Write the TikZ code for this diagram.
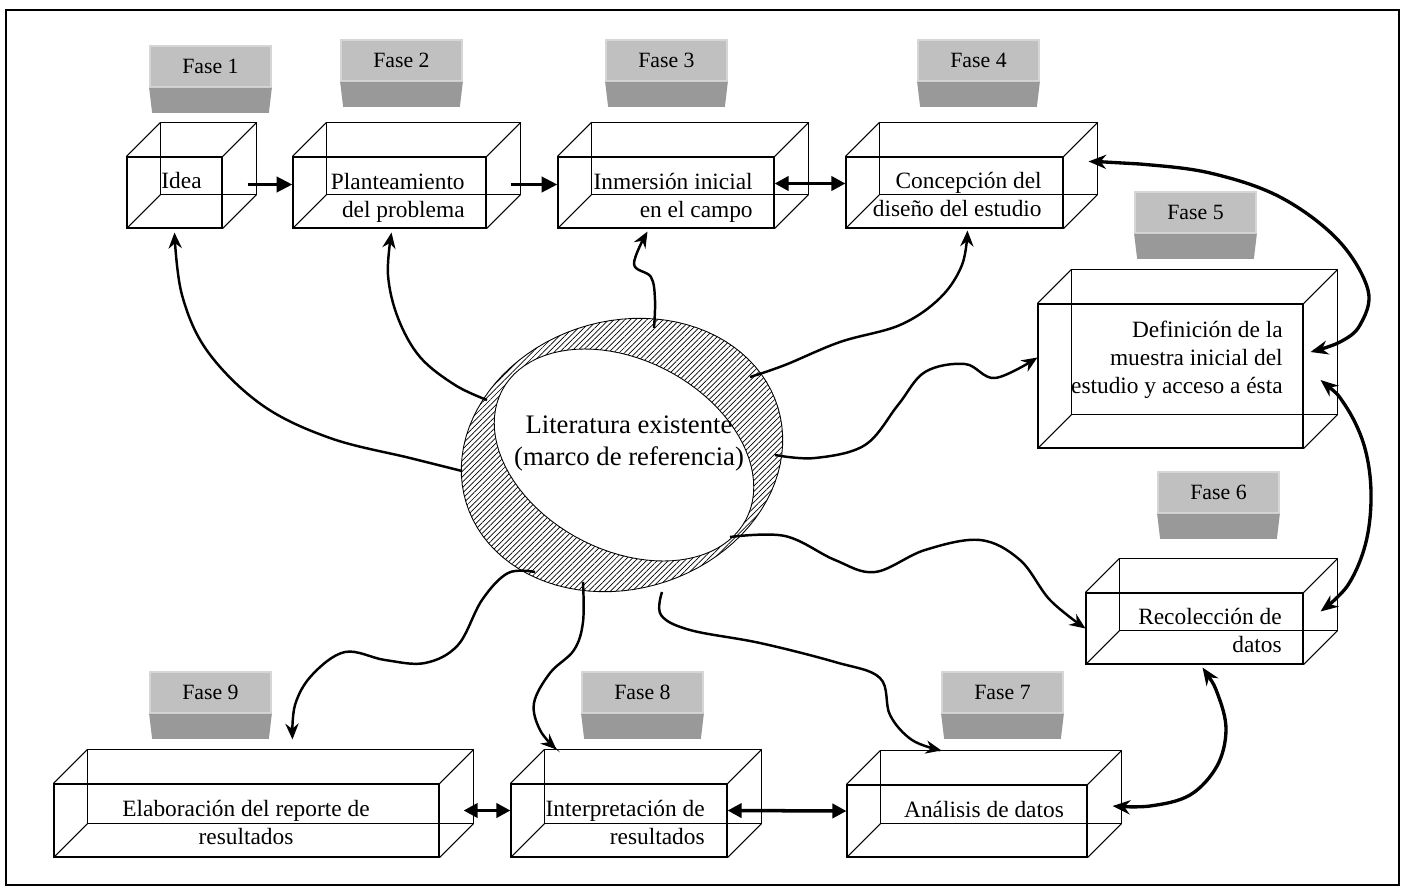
\documentclass[tikz,border=0pt]{standalone}
\usepackage{fontspec}
\setmainfont{Liberation Serif}
\usepackage{xcolor}
\definecolor{tablight}{RGB}{192,192,192}
\definecolor{tabrim}{RGB}{214,214,214}
\definecolor{tabdark}{RGB}{153,153,153}
\usetikzlibrary{arrows.meta, positioning, calc, fit, patterns.meta}

\begin{document}
\begin{tikzpicture}[
    x=0.02cm, y=-0.02cm,
    cube/.style={draw, inner sep=0pt, line width=0.6pt},
    fasetab/.style={fill=tablight, draw=tabrim, line width=1pt, minimum width=2.42cm, minimum height=0.82cm, inner sep=0pt, font=\fontsize{12.4}{14}\selectfont},
    boxtext/.style={inner sep=0pt, align=right, anchor=base east, font=\fontsize{13.3}{15.8}\selectfont},
    ring/.style={draw, line width=0.5pt, pattern={Lines[angle=45, distance=2.2pt, line width=0.4pt]}},
    flow/.style={-{Triangle[length=9pt, width=8.5pt]}, line width=2.2pt},
    twoway/.style={{Triangle[length=8pt, width=8pt]}-{Triangle[length=8pt, width=8pt]}, line width=2pt},
    link/.style={-{Stealth[length=9pt, width=7.5pt]}, line width=1.4pt},
    swing/.style={{Stealth[length=10pt, width=8pt]}-{Stealth[length=10pt, width=8pt]}, line width=1.9pt}
]
\useasboundingbox (0,0) rectangle (1407,890);
\draw[line width=1.2pt] (6,10) rectangle (1399,885);

% fases
\node[fasetab] (f1) at (210.5,66.5) {Fase 1};
\node[fasetab] (f2) at (401.5,60.5) {Fase 2};
\node[fasetab] (f3) at (666.5,60.5) {Fase 3};
\node[fasetab] (f4) at (978.5,60.5) {Fase 4};
\node[fasetab] (f5) at (1195.5,212.5) {Fase 5};
\node[fasetab] (f6) at (1218.5,492.5) {Fase 6};
\node[fasetab] (f7) at (1002.5,692.5) {Fase 7};
\node[fasetab] (f8) at (642.5,692.5) {Fase 8};
\node[fasetab] (f9) at (210.5,692.5) {Fase 9};
\foreach \t in {f1,f2,f3,f4,f5,f6,f7,f8,f9}
  \fill[tabdark] (\t.south west) -- (\t.south east) -- ++(-3,25) -- ($(\t.south west)+(3,25)$) -- cycle;

% cajas
\foreach \n/\xa/\ya/\xb/\yb in {idea/127/157/222/228, plan/293/157/486/228, inm/558/157/774/228, conc/846/157/1063/228, defi/1038/304/1303/448, reco/1086/593/1303/664, elab/54/784/439/857, interp/511/784/727/857, anal/847/785/1087/857} {
  \node[cube, fit={(\xa,\ya) (\xb,\yb)}] (\n) {};
  \draw[cube] ($(\n.north west)+(34,-34)$) rectangle ($(\n.south east)+(34,-34)$);
  \foreach \c in {north west, north east, south west, south east}
    \draw[cube] (\n.\c) -- ++(34,-34);
}

\node[boxtext] (idealbl) at (202,188) {Idea};
\node[boxtext] (planlbl) at (465,217) {Planteamiento\\del problema};
\node[boxtext] (inmlbl) at (753,217) {Inmersión inicial\\en el campo};
\node[boxtext] (conclbl) at (1042,216) {Concepción del\\diseño del estudio};
\node[boxtext] (defilbl) at (1283,393) {Definición de la\\muestra inicial del\\estudio y acceso a ésta};
\node[boxtext] (recolbl) at (1282,652) {Recolección de\\datos};
\node[boxtext] (interplbl) at (705,844) {Interpretación de\\resultados};
\node[boxtext, align=center, anchor=base] (elablbl) at (246,844) {Elaboración del reporte de\\resultados};
\node[boxtext, anchor=base] (anallbl) at (984,817) {Análisis de datos};

% literatura
\draw[ring] plot[domain=0:360, samples=91, variable=\t]
  ({622 + 163*cos(\t)*cos(17) + 134*sin(\t)*sin(17)}, {455 - 163*cos(\t)*sin(17) + 134*sin(\t)*cos(17)}) -- cycle;
\draw[fill=white, line width=0.5pt] plot[domain=0:360, samples=91, variable=\t]
  ({624 + 138*cos(\t)*cos(28) - 95*sin(\t)*sin(28)}, {455 + 138*cos(\t)*sin(28) + 95*sin(\t)*cos(28)}) -- cycle;
\node[font=\fontsize{15.2}{18}\selectfont, align=center, inner sep=0pt, anchor=base] (lit) at (629,465) {Literatura existente\\(marco de referencia)};

\coordinate (r1) at (462,471);
\coordinate (r2) at (487,400);
\coordinate (r3) at (654,328);
\coordinate (r4) at (750,377);
\coordinate (r5) at (775,455);
\coordinate (r6) at (730,537);
\coordinate (r7) at (662,592);
\coordinate (r8) at (583,582);
\coordinate (r9) at (535,572);

\draw[link] plot[smooth, tension=0.6] coordinates {(r1) (410,458) (330,438) (262,405) (208,352) (182,295) ($(idea.south)+(0,4)$)};
\draw[link] plot[smooth, tension=0.6] coordinates {(r2) (455,385) (420,357) (398,318) (388,275) ($(plan.south)+(2,4)$)};
\draw[link] plot[smooth, tension=0.6] coordinates {(r3) (655,300) (651,277) (634,264) ($(inm.south west)+(90,3)$)};
\draw[link] plot[smooth, tension=0.6] coordinates {(r4) (785,365) (840,342) (900,325) (940,298) (962,265) ($(conc.south west)+(122,2)$)};
\draw[link] plot[smooth, tension=0.6] coordinates {(r5) (815,458) (865,445) (898,405) (925,372) (965,364) (995,378) ($(defi.north west)+(0,54)$)};
\draw[link] plot[smooth, tension=0.6] coordinates {(r6) (785,536) (835,560) (875,572) (925,550) (980,540) (1020,560) (1050,600) (reco.west)};
\draw[link] plot[smooth, tension=0.6] coordinates {(r7) (661,615) (690,630) (760,643) (835,662) (880,678) (890,715) (912,740) ($(anal.north west)+(95,-34)$)};
\draw[link] plot[smooth, tension=0.6] coordinates {(r8) (583,622) (574,650) (550,673) (534,703) (540,730) ($(interp.north west)+(46,-34)$)};
\draw[link] plot[smooth, tension=0.6] coordinates {(r9) (508,573) (482,600) (458,645) (425,663) (385,660) (345,652) (312,675) (295,705) ($(elab.north west)+(239,-44)$)};

\draw[swing] plot[smooth, tension=0.6] coordinates {($(conc.north east)+(25,5)$) (1140,164) (1210,173) (1280,197) (1338,240) (1368,290) (1360,325) (1340,342) ($(defi.east)+(7,-24)$)};
\draw[swing] plot[smooth, tension=0.6] coordinates {($(defi.east)+(17,4)$) (1345,405) (1364,445) (1371,492) (1366,542) (1348,585) ($(reco.east)+(17,-17)$)};
\draw[swing] plot[smooth, tension=0.6] coordinates {($(reco.south)+(8,3)$) (1218,695) (1226,730) (1217,766) (1190,795) (1150,806) ($(anal.east)+(25,-15)$)};

\draw[flow] ($(idea.east)+(25,-8)$) -- ($(plan.west)+(0,-8)$);
\draw[flow] ($(plan.east)+(24,-8)$) -- ($(inm.west)+(0,-8)$);
\draw[twoway] ($(inm.east)+(0,-9)$) -- ($(conc.west)+(0,-9)$);
\draw[twoway] ($(elab.east)+(24,-10)$) -- ($(interp.west)+(0,-10)$);
\draw[twoway] ($(interp.east)+(0,-10)$) -- ($(anal.west)+(0,-10)$);
\end{tikzpicture}
\end{document}
